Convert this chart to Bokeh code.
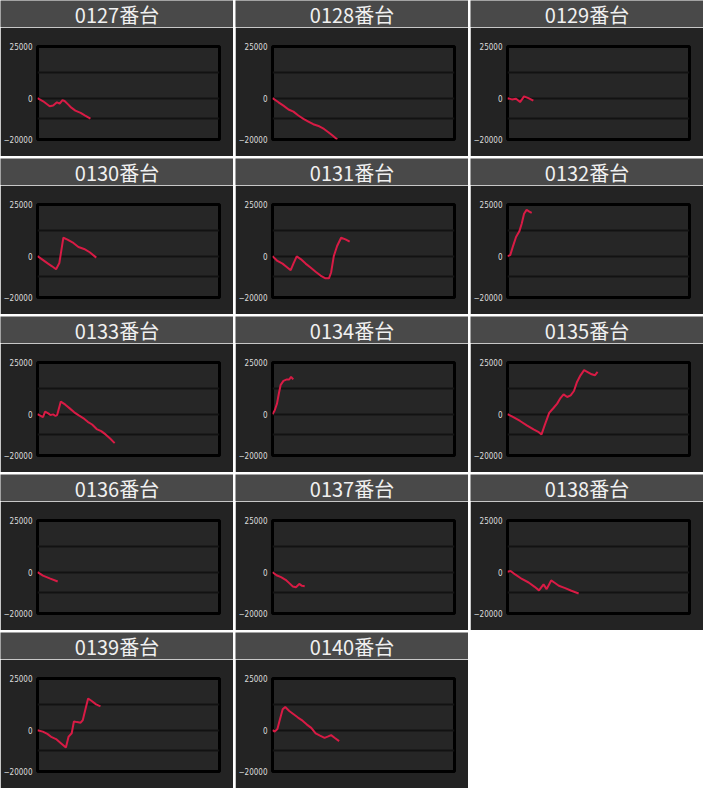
from bokeh.plotting import figure
from bokeh.models import Range1d, FixedTicker, GlobalInlineStyleSheet
from bokeh.layouts import column, row
from bokeh.core.properties import value
from bokeh.embed import file_html
from bokeh.resources import INLINE

# ---------------- data (x: progress in % of chart width, y: coin difference) ----------------
names = ["0127番台", "0128番台", "0129番台", "0130番台", "0131番台", "0132番台", "0133番台",
         "0134番台", "0135番台", "0136番台", "0137番台", "0138番台", "0139番台", "0140番台"]

x0127 = [0, 3.1, 6.7, 8.6, 10.7, 12.2, 13.7, 14.9, 16.8, 18.6, 20.8, 23.7, 26.2, 29.1]
y0127 = [0, -1500, -3900, -3600, -2000, -2600, -1000, -1350, -3000, -4600, -6000, -7100, -8400, -9900]

x0128 = [0, 3.3, 6.0, 8.8, 11.5, 14.2, 17.0, 19.7, 22.4, 25.7, 28.3, 30.7, 33.0, 35.6]
y0128 = [0, -2000, -3600, -5500, -6500, -8400, -10000, -11300, -12600, -13600, -14900, -16500, -18100, -20000]

x0129 = [0, 2.4, 4.7, 6.9, 9.1, 11.5, 14.2]
y0129 = [0, -600, -300, -1900, 900, 0, -1200]

x0130 = [0, 2.9, 5.6, 8.0, 10.2, 12.0, 14.2, 16.5, 19.2, 22.5, 25.6, 28.7, 32.3]
y0130 = [0, -1800, -3500, -4900, -6300, -3300, 8900, 8000, 6700, 4400, 3500, 1900, -700]

x0131 = [0, 2.7, 5.5, 7.8, 10.0, 11.5, 13.3, 15.5, 18.2, 20.9, 23.7, 26.4, 29.1, 31.0, 32.2, 33.7, 35.5, 37.7, 40.1, 42.4]
y0131 = [0, -2300, -3600, -5200, -6800, -3600, -100, -1400, -3600, -5500, -7500, -9400, -10700, -10700, -7900, 100, 4900, 8900, 8100, 7000]

x0132 = [0, 1.5, 2.9, 4.7, 6.5, 7.8, 9.1, 10.5, 12.0, 13.3]
y0132 = [0, 500, 4500, 9300, 12000, 15700, 20500, 22400, 21600, 21000]

x0133 = [0, 2.0, 3.0, 4.2, 5.9, 7.1, 8.6, 9.9, 10.8, 12.8, 15.3, 17.7, 20.2, 22.7, 25.1, 27.6, 30.0, 32.5, 35.0, 37.4, 39.9, 42.4]
y0133 = [0, -900, -1400, 1200, 400, -400, -100, -900, -400, 6100, 4600, 2800, 900, -600, -1900, -3700, -5000, -7200, -8200, -9800, -11800, -14000]

x0134 = [0, 1.2, 2.5, 3.5, 4.5, 6.0, 7.9, 9.2, 10.2, 11.4]
y0134 = [0, 1800, 5200, 10000, 14200, 16100, 16800, 16800, 18100, 16800]

x0135 = [0, 3.2, 6.9, 10.6, 14.3, 17.2, 18.7, 20.4, 22.9, 25.4, 27.3, 29.1, 30.8, 32.8, 34.7, 36.5, 38.2, 40.1, 42.1, 43.8, 46.3, 48.0, 49.5]
y0135 = [0, -1400, -3300, -5400, -7400, -8700, -9800, -5400, 600, 3100, 5100, 7800, 9600, 8300, 9100, 11200, 15600, 18800, 21300, 20500, 19300, 18800, 20500]

x0136 = [0, 3.0, 6.7, 11.1]
y0136 = [0, -1700, -3000, -4500]

x0137 = [0, 2.2, 4.7, 7.2, 9.2, 11.2, 12.9, 14.7, 16.2, 17.7]
y0137 = [0, -1500, -2400, -3700, -5300, -6900, -7300, -5700, -6600, -6800]

x0138 = [0, 1.7, 4.2, 7.9, 11.6, 14.9, 17.3, 19.8, 21.5, 24.0, 25.7, 28.2, 31.7, 35.1, 39.1]
y0138 = [200, 600, -1100, -3300, -5000, -7100, -8800, -5900, -8200, -4000, -5000, -6600, -7700, -9000, -10300]

x0139 = [0, 2.9, 5.4, 7.8, 10.2, 12.7, 15.6, 17.1, 18.8, 20.0, 21.7, 23.7, 24.9, 26.1, 27.8, 29.8, 32.2, 34.6]
y0139 = [0, -700, -1800, -3400, -4300, -6200, -8400, -3100, -1500, 4200, 3900, 3600, 4900, 9300, 15300, 14100, 12500, 11500]

x0140 = [0, 1.2, 2.7, 4.1, 5.6, 7.0, 9.2, 11.6, 14.0, 16.5, 18.9, 21.3, 23.7, 26.1, 28.6, 30.3, 32.2, 34.1, 36.6]
y0140 = [0, -700, 600, 5300, 10100, 11200, 9300, 7700, 6100, 4600, 2700, 1100, -1500, -2600, -3700, -3100, -2400, -3700, -5300]

axis_ticks = [-20000, 0, 25000]
grid_ticks = [-10000, 0, 12500]
y_min, y_max = -20000, 25000
x_min, x_max = 0, 100

series = [(x0127, y0127), (x0128, y0128), (x0129, y0129), (x0130, y0130), (x0131, y0131),
          (x0132, y0132), (x0133, y0133), (x0134, y0134), (x0135, y0135), (x0136, y0136),
          (x0137, y0137), (x0138, y0138), (x0139, y0139), (x0140, y0140)]

# ---------------- styling ----------------
PANEL_W = 233
TITLE_H = 27
CHART_H = 129
PANEL_BG = "#232323"
FRAME_BG = "#262626"
TITLE_BG = "#494949"
LINE_COLOR = "#d81b45"


def make_title(label):
    t = figure(width=PANEL_W, height=TITLE_H, x_range=Range1d(0, 1), y_range=Range1d(0, 1),
               x_axis_location=None, y_axis_location=None, frame_align=False,
               output_backend="svg", toolbar_location=None, min_border=0)
    t.grid.visible = False
    t.outline_line_color = None
    t.background_fill_color = TITLE_BG
    t.border_fill_color = TITLE_BG
    t.text(x=[0.5], y=[0.5], text=[label], text_align="center", text_baseline="middle",
           text_font=value("Noto Sans CJK JP"), text_font_size="20px", text_color="#f0f0f0")
    return t


def make_chart(xs, ys):
    p = figure(width=PANEL_W, height=CHART_H, x_range=Range1d(x_min, x_max),
               y_range=Range1d(y_min, y_max), output_backend="svg", toolbar_location=None,
               x_axis_location=None,
               min_border_left=36, min_border_right=14, min_border_top=19, min_border_bottom=17)
    p.xgrid.visible = False
    p.background_fill_color = FRAME_BG
    p.border_fill_color = PANEL_BG
    p.outline_line_color = "black"
    p.outline_line_width = 3
    p.ygrid.ticker = FixedTicker(ticks=grid_ticks)
    p.ygrid.grid_line_color = "#121212"
    p.ygrid.grid_line_width = 2
    ax = p.yaxis[0]
    ax.ticker = FixedTicker(ticks=axis_ticks)
    ax.axis_line_color = None
    ax.major_tick_line_color = None
    ax.minor_tick_line_color = None
    ax.major_tick_out = 0
    ax.major_tick_in = 0
    ax.minor_tick_out = 0
    ax.major_label_standoff = 5
    ax.major_label_text_color = "#dddddd"
    ax.major_label_text_font = "DejaVu Sans Condensed"
    ax.major_label_text_font_size = "8px"
    p.line(xs, ys, line_color=LINE_COLOR, line_width=2)
    return p


panels = []
for label, (xs, ys) in zip(names, series):
    panels.append(column(make_title(label), make_chart(xs, ys), spacing=0))

rows = [row(*panels[i:i + 3], spacing=2) for i in range(0, len(panels), 3)]
layout = column(*rows, spacing=2)
layout.stylesheets = [GlobalInlineStyleSheet(css="html, body { margin: 0 !important; padding: 0; overflow: hidden; background: #ffffff; }")]

open("out.html", "w").write(file_html(layout, INLINE))
